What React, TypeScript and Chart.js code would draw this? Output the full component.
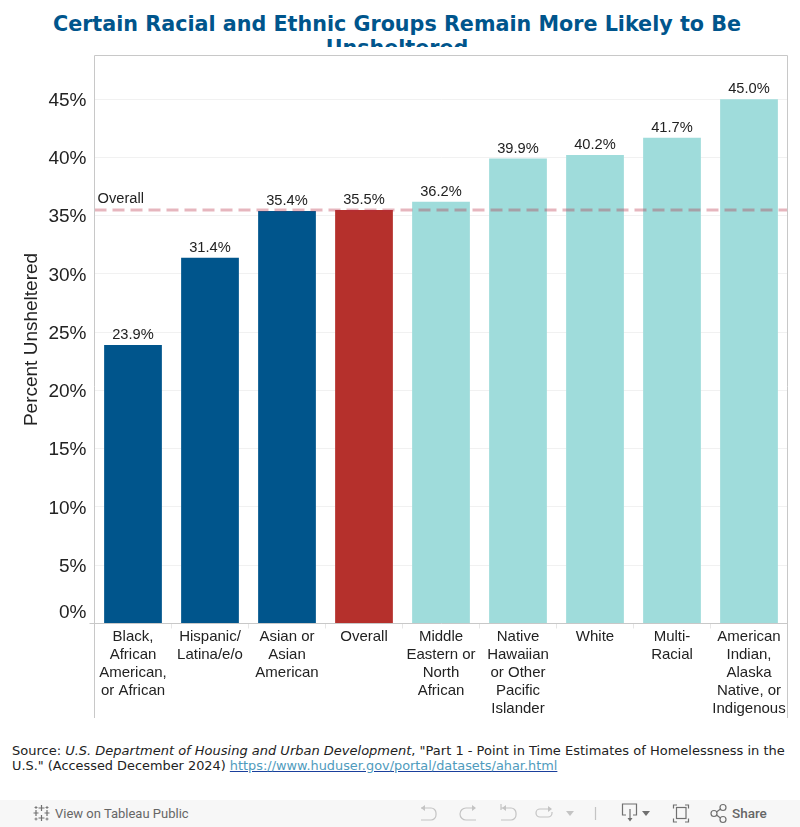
import React, { useEffect, useRef } from "react";
import { Chart, registerables } from "chart.js";

Chart.register(...registerables);

const categories: string[][] = [
  ["Black,", "African", "American,", "or African"],
  ["Hispanic/", "Latina/e/o"],
  ["Asian or", "Asian", "American"],
  ["Overall"],
  ["Middle", "Eastern or", "North", "African"],
  ["Native", "Hawaiian", "or Other", "Pacific", "Islander"],
  ["White"],
  ["Multi-", "Racial"],
  ["American", "Indian,", "Alaska", "Native, or", "Indigenous"],
];
const percentUnsheltered = [23.9, 31.4, 35.4, 35.5, 36.2, 39.9, 40.2, 41.7, 45.0];
const barColors = ["#00558c", "#00558c", "#00558c", "#b5302c", "#9fdcdb", "#9fdcdb", "#9fdcdb", "#9fdcdb", "#9fdcdb"];
const overallValue = 35.5;
const overallLabel = "Overall";
const yMax = 48.75;
const yStep = 5;
const titleText = "Certain Racial and Ethnic Groups Remain More Likely to Be Unsheltered";
const FONT = '"Liberation Sans", Arial, sans-serif';
const AXIS_COLOR = "#c8c8c8";

const annotate = {
  id: "annotate",
  afterDatasetsDraw(chart: any) {
    const { ctx, chartArea, scales } = chart;
    const meta = chart.getDatasetMeta(0);
    ctx.save();
    ctx.fillStyle = "#222";
    ctx.font = `14.67px ${FONT}`;
    ctx.textAlign = "center";
    ctx.textBaseline = "alphabetic";
    meta.data.forEach((bar: any, i: number) => {
      ctx.fillText(percentUnsheltered[i].toFixed(1) + "%", bar.x, bar.y - 6);
    });
    const y = scales.y.getPixelForValue(overallValue);
    ctx.strokeStyle = "rgba(181,40,65,0.34)";
    ctx.lineWidth = 3;
    ctx.setLineDash([12, 6]);
    ctx.beginPath();
    ctx.moveTo(chartArea.left, y);
    ctx.lineTo(chartArea.right, y);
    ctx.stroke();
    ctx.setLineDash([]);
    ctx.textAlign = "left";
    ctx.fillText(overallLabel, chartArea.left + 3, y - 7);
    ctx.strokeStyle = AXIS_COLOR;
    ctx.lineWidth = 1;
    ctx.beginPath();
    ctx.moveTo(chartArea.left, chartArea.top);
    ctx.lineTo(chartArea.right, chartArea.top);
    ctx.moveTo(chartArea.left, chartArea.top);
    ctx.lineTo(chartArea.left, chart.height - 2);
    ctx.moveTo(chartArea.right, chartArea.top);
    ctx.lineTo(chartArea.right, chart.height - 2);
    ctx.stroke();
    ctx.restore();
  },
};

const iconStroke = { fill: "none", stroke: "#c4c4c4", strokeWidth: 1.2 };
const darkStroke = { fill: "none", stroke: "#707070", strokeWidth: 1.2 };

function Toolbar() {
  return (
    <div style={{ position: "absolute", left: 0, top: 800, width: 800, height: 27, background: "#f7f7f7" }}>
      <svg width={800} height={27} style={{ position: "absolute", left: 0, top: 0 }}>
        <g stroke="#707070" strokeWidth={1.2} fill="none">
          <path d="M41.5 5v6M38.5 8h6M41.5 15v6M38.5 18h6M36 10v6M33.5 13h5M47 10v6M44.5 13h5" />
          <path d="M36 6v3M34.5 7.5h3M47 6v3M45.5 7.5h3M36 17.5v3M34.5 19h3M47 17.5v3M45.5 19h3" strokeWidth={0.9} />
        </g>
        <g {...iconStroke}>
          <path d="M421 8h10a5 5 0 0 1 5 5v2a5 5 0 0 1-5 5h-10" />
          <path d="M475 8h-9a6 6 0 0 0-6 6v0a6 6 0 0 0 6 6h10" />
          <path d="M501 8h10a5 5 0 0 1 5 5v2a5 5 0 0 1-5 5h-10M501 4v6" />
          <path d="M551 9h-11a4 4 0 0 0-4 4v0a4 4 0 0 0 4 4h8a4 4 0 0 0 4-4v-1" />
          <path d="M595.5 7v13" />
        </g>
        <path d="M421 8l4-3v6zM476 8l-4-3v6zM502 8l4-3v6zM552 9l-4-3v6z" fill="#c4c4c4" />
        <path d="M566 11h8l-4 5z" fill="#c4c4c4" />
        <g {...darkStroke}>
          <path d="M626 15h-3.500v-11h14v11h-3.500M630 9v11" />
          <path d="M677 5h-3.500v3.500M685 5h3.500v3.500M677 22h-3.500v-3.500M685 22h3.500v-3.500" />
          <rect x={676.500} y={7.500} width={9.500} height={11} />
          <circle cx={714} cy={13.500} r={3} />
          <circle cx={723} cy={7.500} r={3} />
          <circle cx={723} cy={19.500} r={3} />
          <path d="M716.500 12l4-3M716.500 15l4 3" />
        </g>
        <path d="M627.500 18h5l-2.500 3.500z" fill="#707070" />
        <path d="M642 11h8l-4 5z" fill="#707070" />
      </svg>
      <span style={{ position: "absolute", left: 55, top: 6, font: '400 13px/15px Roboto, sans-serif', color: "#666" }}>View on Tableau Public</span>
      <span style={{ position: "absolute", left: 732, top: 5, font: '500 13.500px/16px Roboto, sans-serif', color: "#666" }}>Share</span>
    </div>
  );
}

export default function App() {
  const ref = useRef<HTMLCanvasElement>(null);
  useEffect(() => {
    const chart = new Chart(ref.current!, {
      type: "bar",
      data: {
        labels: categories,
        datasets: [{ data: percentUnsheltered, backgroundColor: barColors, barPercentage: 0.75, categoryPercentage: 1 }],
      },
      plugins: [annotate],
      options: {
        animation: false,
        responsive: false,
        devicePixelRatio: 1,
        layout: { padding: { top: 55.5, right: 12.5, left: 0, bottom: 0 } },
        plugins: { legend: { display: false }, title: { display: false }, tooltip: { enabled: false } },
        scales: {
          x: {
            afterFit: (s: any) => { s.height = 96.5; },
            grid: { drawOnChartArea: false, tickLength: 5, color: "#e6e6e6" },
            border: { display: false },
            ticks: {
              autoSkip: false, maxRotation: 0, minRotation: 0, padding: -1, color: "#222",
              font: { family: FONT, size: 15, lineHeight: 18 / 15 },
            },
          },
          y: {
            min: 0,
            max: yMax,
            afterFit: (s: any) => { s.width = 94.5; },
            title: {
              display: true, text: "Percent Unsheltered", color: "#222",
              font: { family: FONT, size: 19 }, padding: { top: 20, bottom: 0 },
            },
            grid: {
              tickLength: 5,
              color: (c: any) => (c.tick && c.tick.value === 0 ? AXIS_COLOR : "#f1f1f1"),
              tickColor: (c: any) => (c.tick && c.tick.value === 0 ? AXIS_COLOR : "rgba(0,0,0,0)"),
            },
            border: { display: false },
            ticks: {
              stepSize: yStep, includeBounds: false, padding: 3, labelOffset: 1.5, color: "#222",
              font: { family: FONT, size: 19, lineHeight: 24 / 19 },
              callback: (v: any) => (v === 0 ? ["0%", ""] : `${v}%`),
            },
          },
        },
      },
    } as any);
    return () => chart.destroy();
  }, []);
  return (
    <div style={{ position: "absolute", left: 0, top: 0, width: 800, height: 827, overflow: "hidden", background: "#fff" }}>
      <div style={{ position: "absolute", left: -3, top: 12, width: 800, height: 35, overflow: "hidden", textAlign: "center", color: "#00558c", font: 'bold 20.700px/24px "DejaVu Sans", sans-serif' }}>
        <div style={{ width: 700, margin: "0 auto" }}>{titleText}</div>
      </div>
      <canvas ref={ref} width={800} height={720} style={{ position: "absolute", left: 0, top: 0, display: "block" }} />
      <div style={{ position: "absolute", left: 12, top: 743, width: 780, color: "#222", font: '13px/15px "DejaVu Sans", sans-serif' }}>
        Source: <i>U.S. Department of Housing and Urban Development</i>, "Part 1 - Point in Time Estimates of Homelessness in the{" "}
        <span style={{ fontSize: 12.88 }}>
          U.S." (Accessed December 2024){" "}
          <a href="https://www.huduser.gov/portal/datasets/ahar.html" style={{ color: "#4f9bbd", textDecorationColor: "#1a3f9c" }}>https://www.huduser.gov/portal/datasets/ahar.html</a>
        </span>
      </div>
      <Toolbar />
    </div>
  );
}
